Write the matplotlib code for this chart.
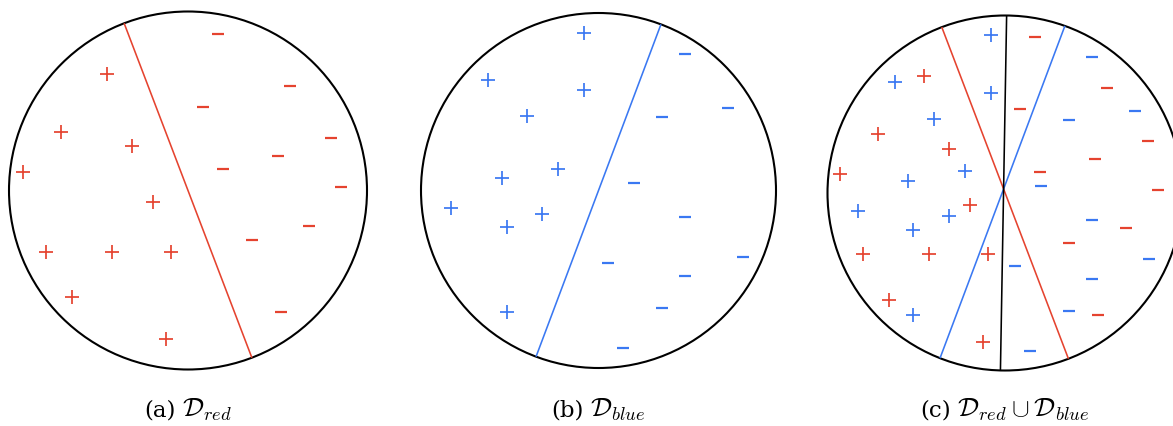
import numpy as np
import matplotlib
matplotlib.use('Agg')
import matplotlib.pyplot as plt
from matplotlib.patches import Circle

plt.rcParams['font.family'] = ['DejaVu Serif']
plt.rcParams['mathtext.fontset'] = 'cm'

# points as offsets (px) from circle centre, y pointing up
red_plus_x = [-81.3, -127.3, -56.3, -165.3, -35.3, -142, -76, -17, -116, -22]
red_plus_y = [116.8, 58.8, 44.5, 18.8, -11.8, -61.2, -61.2, -61.2, -106.5, -148.5]
red_minus_x = [30.3, 102, 15.3, 143, 89.7, 35.3, 152.7, 120.7, 64.3, 92.7]
red_minus_y = [156.5, 104.8, 83.8, 52.5, 34.5, 21.5, 3.2, -35.2, -49.5, -121.8]

blue_plus_x = [-14.2, -110.2, -14.5, -71.2, -40.5, -96.8, -147.2, -56.5, -91.8, -91.8]
blue_plus_y = [157.8, 110.8, 100.5, 74.5, 21.8, 12.5, -17.8, -23.2, -36.8, -121.8]
blue_minus_x = [86.5, 129.5, 63.5, 35.8, 86.5, 144.2, 9.8, 86.5, 63.5, 24.8]
blue_minus_y = [136.5, 82.2, 73.2, 7.2, -26.5, -66.2, -72.8, -85.8, -117.8, -157.8]

# separator angles (deg)
red_angle = 110.9
blue_angle = 69.4
union_angle = 89.0

labels = ['(a)', '(b)', '(c)']
captions = [r'$\mathcal{D}_{red}$',
            r'$\mathcal{D}_{blue}$',
            r'$\mathcal{D}_{red} \cup \mathcal{D}_{blue}$']

red_color = '#E5432F'
blue_color = '#3A78F2'

# panel layout in pixels
centers = [(188, 191.5), (598.5, 191.5), (1005, 194)]
radii = [179, 177.5, 177.5]
pivots = [(188, 191.5), (598.5, 191.5), (1003.6, 190)]


def chord(ax, c, r, p, ang, color):
    # line through p at angle ang, clipped to circle
    d = np.array([np.cos(np.radians(ang)), -np.sin(np.radians(ang))])
    w = np.array(p) - np.array(c)
    b = np.dot(w, d)
    q = np.dot(w, w) - r * r
    t1 = -b - np.sqrt(b * b - q)
    t2 = -b + np.sqrt(b * b - q)
    p1 = np.array(p) + t1 * d
    p2 = np.array(p) + t2 * d
    ax.plot([p1[0], p2[0]], [p1[1], p2[1]], color=color, lw=1.15, solid_capstyle='butt', zorder=2)


def pts(ax, c, xs, ys, marker, color):
    x = c[0] + np.array(xs)
    y = c[1] - np.array(ys)
    if marker == '+':
        ax.plot(x, y, ls='none', marker='+', ms=9.4, mew=1.25, color=color, zorder=3)
    else:
        ax.plot(x, y, ls='none', marker='_', ms=9.0, mew=1.6, color=color, zorder=3)


fig = plt.figure(figsize=(11.73, 4.27), dpi=100)
ax = fig.add_axes([0, 0, 1, 1])
ax.set_xlim(0, 1173)
ax.set_ylim(427, 0)
ax.axis('off')

for i in range(3):
    ax.add_patch(Circle(centers[i], radii[i], fill=False, ec='black', lw=1.5, zorder=2))

# (a)
chord(ax, centers[0], radii[0], pivots[0], red_angle, red_color)
pts(ax, centers[0], red_plus_x, red_plus_y, '+', red_color)
pts(ax, centers[0], red_minus_x, red_minus_y, '_', red_color)

# (b)
chord(ax, centers[1], radii[1], pivots[1], blue_angle, blue_color)
pts(ax, centers[1], blue_plus_x, blue_plus_y, '+', blue_color)
pts(ax, centers[1], blue_minus_x, blue_minus_y, '_', blue_color)

# (c)
chord(ax, centers[2], radii[2], pivots[2], red_angle, red_color)
chord(ax, centers[2], radii[2], pivots[2], blue_angle, blue_color)
chord(ax, centers[2], radii[2], pivots[2], union_angle, 'black')
pts(ax, centers[2], red_plus_x, red_plus_y, '+', red_color)
pts(ax, centers[2], red_minus_x, red_minus_y, '_', red_color)
pts(ax, centers[2], blue_plus_x, blue_plus_y, '+', blue_color)
pts(ax, centers[2], blue_minus_x, blue_minus_y, '_', blue_color)

# captions: label + math, centred together under each circle
renderer = fig.canvas.get_renderer()
gap = 6
for i in range(3):
    t1 = ax.text(0, 417, labels[i], ha='left', va='baseline', fontsize=16.5)
    t2 = ax.text(0, 417, captions[i], ha='left', va='baseline', fontsize=19)
    w1 = t1.get_window_extent(renderer).width
    w2 = t2.get_window_extent(renderer).width
    x0 = centers[i][0] - (w1 + gap + w2) / 2
    t1.set_x(x0)
    t2.set_x(x0 + w1 + gap)

plt.savefig('out.png', dpi=100)
plt.close()
